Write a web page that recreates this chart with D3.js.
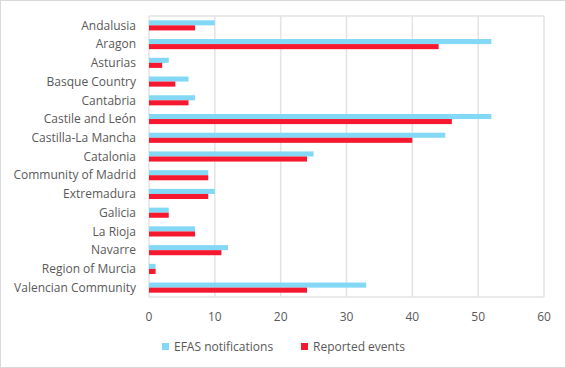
<!DOCTYPE html>
<html>
<head>
<meta charset="utf-8">
<script src="https://cdn.jsdelivr.net/npm/d3@7"></script>
<style>
  body { margin: 0; background: #fff; }
  svg { display: block; font-family: "Open Sans", "Liberation Sans", sans-serif; }
</style>
</head>
<body>
<script>
var regiones = ["Andalusia","Aragon","Asturias","Basque Country","Cantabria","Castile and León",
  "Castilla-La Mancha","Catalonia","Community of Madrid","Extremadura","Galicia","La Rioja",
  "Navarre","Region of Murcia","Valencian Community"];
var efas = [10,52,3,6,7,52,45,25,9,10,3,7,12,1,33];
var reportados = [7,44,2,4,6,46,40,24,9,9,3,7,11,1,24];
var ticks = [0,10,20,30,40,50,60];
var series = ["EFAS notifications","Reported events"];
var colores = ["#82d8f5","#f5182f"];

var w = 566, h = 368;
var izq = 149, der = 544, arriba = 16, abajo = 297;

var svg = d3.select("body").append("svg")
    .attr("width", w)
    .attr("height", h);

svg.append("rect")
    .attr("x", 0.5).attr("y", 0.5)
    .attr("width", w - 1).attr("height", h - 1)
    .attr("fill", "#fff")
    .attr("stroke", "#d9d9d9");

const x = d3.scaleLinear().domain([0,60]).range([izq, der]);
const y = d3.scaleBand().domain(regiones).range([arriba, abajo]).paddingInner(0.46).paddingOuter(0.23);
const y2 = d3.scaleBand().domain(series).range([0, y.bandwidth()]);

// rejilla
svg.selectAll("line.grid")
    .data(ticks)
    .enter().append("line")
    .attr("class","grid")
    .attr("x1", d => x(d)).attr("x2", d => x(d))
    .attr("y1", arriba).attr("y2", abajo)
    .attr("stroke", "#e3e3e3")
    .attr("stroke-width", 1.5);

svg.append("line")
    .attr("x1", izq).attr("x2", der)
    .attr("y1", arriba).attr("y2", arriba)
    .attr("stroke", "#e3e3e3").attr("stroke-width", 1.5);
svg.append("line")
    .attr("x1", izq).attr("x2", der)
    .attr("y1", abajo).attr("y2", abajo)
    .attr("stroke", "#e3e3e3").attr("stroke-width", 1.5);

var datos = regiones.map(function(r, i){
    return {region: r, valores: [efas[i], reportados[i]]};
});

var grupos = svg.selectAll("g.grupo")
    .data(datos)
    .enter().append("g")
    .attr("class","grupo")
    .attr("transform", d => "translate(0," + y(d.region) + ")");

grupos.selectAll("rect")
    .data(d => d.valores.map((v, j) => ({serie: series[j], v: v, c: colores[j]})))
    .enter().append("rect")
    .attr("x", x(0))
    .attr("y", d => y2(d.serie))
    .attr("width", d => x(d.v) - x(0))
    .attr("height", y2.bandwidth())
    .attr("fill", d => d.c);

// etiquetas
svg.selectAll("text.cat")
    .data(regiones)
    .enter().append("text")
    .attr("class","cat")
    .attr("x", 136)
    .attr("y", d => y(d) + y.bandwidth()/2)
    .attr("dy", "0.35em")
    .attr("text-anchor", "end")
    .attr("font-size", 12)
    .attr("fill", "#595959")
    .text(d => d);

svg.selectAll("text.tick")
    .data(ticks)
    .enter().append("text")
    .attr("class","tick")
    .attr("x", d => x(d))
    .attr("y", 317)
    .attr("dy", "0.35em")
    .attr("text-anchor", "middle")
    .attr("font-size", 12)
    .attr("fill", "#595959")
    .text(d => d);

// leyenda
var leyX = [162, 301];
var ley = svg.selectAll("g.ley")
    .data(series)
    .enter().append("g")
    .attr("class","ley")
    .attr("transform", (d,i) => "translate(" + leyX[i] + ",343)");
ley.append("rect")
    .attr("width", 7).attr("height", 7)
    .attr("fill", (d,i) => colores[i]);
ley.append("text")
    .attr("x", 12).attr("y", 3.5)
    .attr("dy", "0.35em")
    .attr("font-size", 12)
    .attr("fill", "#595959")
    .text(d => d);
</script>
</body>
</html>
